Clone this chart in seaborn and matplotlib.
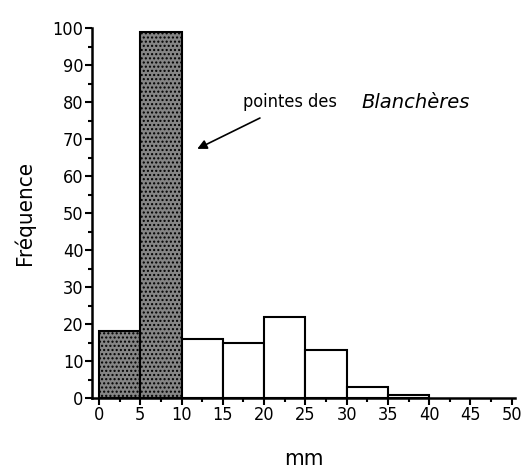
import matplotlib
matplotlib.use("Agg")
import matplotlib.pyplot as plt
from matplotlib.ticker import MultipleLocator
import seaborn as sns
import numpy as np

# Length classes (mm) and their frequencies
bin_edges = [0, 5, 10, 15, 20, 25, 30, 35, 40]
freq_pointes = [18, 99]                 # 0-5, 5-10 : pointes des Blanchères
freq_autres = [16, 15, 22, 13, 3, 0.7]  # 10-15 ... 35-40

sns.set_style("ticks")
plt.rcParams["font.family"] = ["DejaVu Sans"]
plt.rcParams["font.stretch"] = "condensed"
plt.rcParams["text.color"] = "black"
plt.rcParams["axes.labelcolor"] = "black"
plt.rcParams["xtick.color"] = "black"
plt.rcParams["ytick.color"] = "black"
plt.rcParams["axes.edgecolor"] = "black"

fig = plt.figure(figsize=(5.23, 4.68), dpi=100)
ax = fig.add_axes([92 / 523, 70 / 468, 423 / 523, 370 / 468])

centers = np.array([(a + b) / 2 for a, b in zip(bin_edges[:-1], bin_edges[1:])])
sns.histplot(x=centers[:2], weights=freq_pointes, bins=bin_edges[:3], ax=ax,
             color="#858585", alpha=1, edgecolor="black", linewidth=1.5,
             hatch="....")
sns.histplot(x=centers[2:], weights=freq_autres, bins=bin_edges[2:], ax=ax,
             color="white", alpha=1, edgecolor="black", linewidth=1.5)

ax.set_xlim(-0.85, 50.4)
ax.set_ylim(0, 100)
ax.xaxis.set_major_locator(MultipleLocator(5))
ax.xaxis.set_minor_locator(MultipleLocator(2.5))
ax.yaxis.set_major_locator(MultipleLocator(10))
ax.yaxis.set_minor_locator(MultipleLocator(5))
ax.tick_params(which="major", length=5, width=1.5, labelsize=13, pad=1)
ax.tick_params(which="minor", length=3, width=1.5)
for lab in ax.get_xticklabels() + ax.get_yticklabels():
    lab.set_fontstretch("condensed")
for side in ("top", "right"):
    ax.spines[side].set_visible(False)
for side in ("left", "bottom"):
    ax.spines[side].set_linewidth(1.8)

ax.set_xlabel("mm", fontsize=16, labelpad=18)
ax.set_ylabel("Fréquence", fontsize=16, labelpad=13)

ax.annotate("", xy=(11.6, 67), xytext=(19.8, 76),
            arrowprops=dict(arrowstyle="-|>", color="black", lw=1.2,
                            mutation_scale=14))
ax.text(17.4, 80, "pointes des", fontsize=13, va="center", ha="left")
ax.text(31.8, 80, "Blanchères", fontsize=14, va="center", ha="left",
        style="italic", stretch="normal")

fig.savefig("out.png", dpi=100)
